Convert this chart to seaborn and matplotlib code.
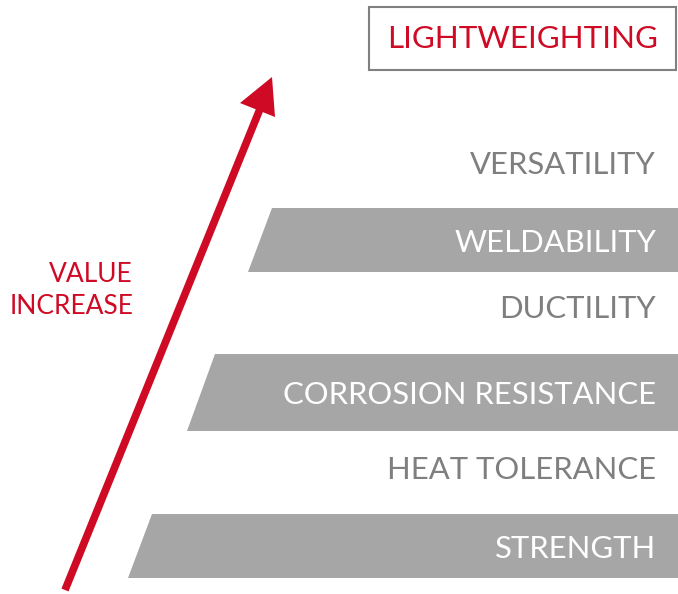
import matplotlib
matplotlib.use("Agg")
import matplotlib.pyplot as plt
from matplotlib.patches import Polygon, Rectangle
import seaborn as sns
import pandas as pd

sns.set_theme(style="white")
plt.rcParams['font.family'] = ['Lato', 'DejaVu Sans']

# Pyramid levels, bottom to top
band_labels = ["STRENGTH", "CORROSION RESISTANCE", "WELDABILITY"]
band_top = [514, 354, 208]
band_bottom = [578, 431, 272]
band_left_top = [152, 215, 272]
band_left_bottom = [128, 187, 248]

gap_labels = ["HEAT TOLERANCE", "DUCTILITY", "VERSATILITY"]
gap_y = [470, 309, 165]

title_label = "LIGHTWEIGHTING"
side_labels = ["VALUE", "INCREASE"]
side_y = [275, 307]

GRAY_BAND = "#A6A6A6"
GRAY_TEXT = "#7F7F7F"
RED = "#CE0A25"

fig = plt.figure(figsize=(6.78, 5.94), dpi=100)
ax = fig.add_axes([0, 0, 1, 1])
ax.set_xlim(0, 678)
ax.set_ylim(594, 0)
ax.axis("off")

RIGHT = 678
TEXT_X = 656
FS = 22.3

for lab, t, b, lt, lb in zip(band_labels, band_top, band_bottom, band_left_top, band_left_bottom):
    poly = Polygon([(lt, t), (RIGHT, t), (RIGHT, b), (lb, b)], closed=True,
                   facecolor=GRAY_BAND, edgecolor="none")
    ax.add_patch(poly)
    ax.text(TEXT_X, (t + b) / 2 + 2.5, lab, ha="right", va="center",
            color="white", fontsize=FS)

for lab, y in zip(gap_labels, gap_y):
    ax.text(TEXT_X, y, lab, ha="right", va="center", color=GRAY_TEXT, fontsize=FS)

# title box
ax.add_patch(Rectangle((369, 7), 307, 63, facecolor="white", edgecolor="#808080", lw=1.5))
ax.text(523, 39, title_label, ha="center", va="center", color=RED, fontsize=22.6)

# arrow
arrow_df = pd.DataFrame({"x": [65, 262], "y": [590, 104]})
sns.lineplot(data=arrow_df, x="x", y="y", ax=ax, color=RED, lw=5.5, sort=False,
             solid_capstyle="butt")
ax.add_patch(Polygon([(272, 77), (240, 103), (275, 117)], closed=True,
                     facecolor=RED, edgecolor="none"))

for lab, y in zip(side_labels, side_y):
    ax.text(133, y, lab, ha="right", va="center", color=RED, fontsize=19)

fig.savefig("out.png", dpi=100)
